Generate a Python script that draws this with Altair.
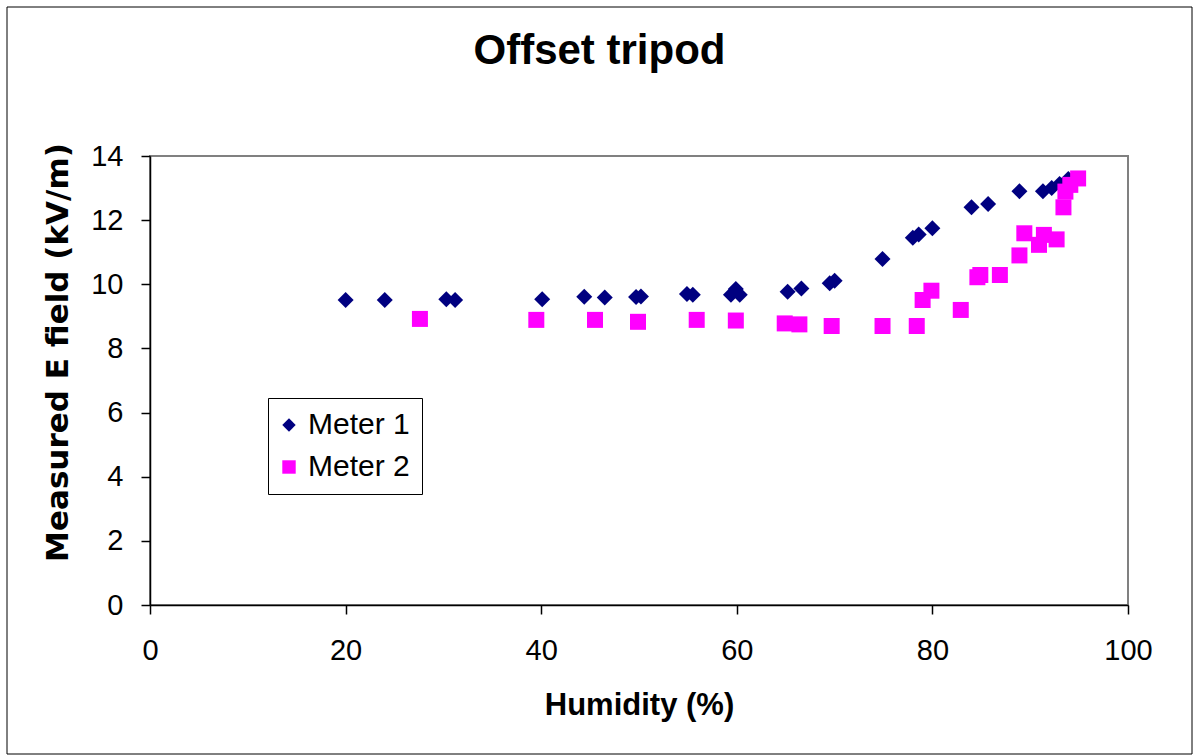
import altair as alt
import pandas as pd

# Meter 1 readings (humidity %, E field kV/m)
m1_x = [20.0, 24.0, 30.3, 31.2, 40.1, 44.4, 46.5, 49.7, 50.2, 54.9, 55.5, 59.4, 59.9, 60.3,
        65.2, 66.6, 69.5, 70.0, 74.9, 78.0, 78.6, 80.0, 84.0, 85.7, 88.9, 91.3, 92.2, 93.0, 93.9]
m1_y = [9.51, 9.51, 9.53, 9.51, 9.53, 9.61, 9.59, 9.60, 9.62, 9.70, 9.67, 9.67, 9.85, 9.67,
        9.77, 9.87, 10.03, 10.11, 10.79, 11.45, 11.55, 11.75, 12.40, 12.50, 12.90, 12.90, 13.00, 13.13, 13.28]

# Meter 2 readings
m2_x = [27.6, 39.5, 45.5, 49.9, 55.9, 59.9, 64.9, 66.4, 69.7, 74.9, 78.4, 79.0, 79.9, 82.9,
        84.6, 84.9, 86.9, 88.9, 89.4, 90.9, 91.4, 92.7, 93.4, 93.6, 94.1, 94.9]
m2_y = [8.92, 8.89, 8.89, 8.83, 8.89, 8.87, 8.78, 8.75, 8.70, 8.70, 8.70, 9.51, 9.80, 9.20,
        10.22, 10.29, 10.29, 10.90, 11.59, 11.23, 11.54, 11.40, 12.40, 12.89, 13.10, 13.30]

series = ["Meter 1", "Meter 2"]
colors = ["#000080", "#FF00FF"]
shapes = ["diamond", "square"]

df = pd.DataFrame({
    "humidity": m1_x + m2_x,
    "field": m1_y + m2_y,
    "meter": [series[0]] * len(m1_x) + [series[1]] * len(m2_x),
})

W, H = 978, 449

points = alt.Chart(df).mark_point(filled=True, size=256, opacity=1).encode(
    x=alt.X("humidity:Q",
            scale=alt.Scale(domain=[0, 100], nice=False),
            axis=alt.Axis(values=[0, 20, 40, 60, 80, 100], title="Humidity (%)",
                          labelFontSize=29, tickSize=9, labelPadding=22, labelFlush=False,
                          titleFontSize=31, titlePadding=25)),
    y=alt.Y("field:Q",
            scale=alt.Scale(domain=[0, 14], nice=False),
            axis=alt.Axis(values=[0, 2, 4, 6, 8, 10, 12, 14], title="Measured E field (kV/m)",
                          labelFontSize=29, tickSize=9, labelPadding=18, labelFlush=False,
                          titleFontSize=31, titleFont="DejaVu Sans", titlePadding=16,
                          titleY=196)),
    color=alt.Color("meter:N", scale=alt.Scale(domain=series, range=colors),
                    legend=alt.Legend(title=None, orient="none", legendX=118, legendY=242,
                                      strokeColor="black", fillColor="white", padding=12,
                                      labelFontSize=30, symbolSize=180, rowPadding=12,
                                      symbolOffset=-6, labelOffset=4, symbolStrokeWidth=0)),
    shape=alt.Shape("meter:N", scale=alt.Scale(domain=series, range=shapes), legend=None),
)

frame = alt.Chart(alt.Data(values=[{"a": 1}])).mark_rect(
    fillOpacity=0, stroke="black", strokeWidth=1
).encode(
    x=alt.value(-143), x2=alt.value(1042), y=alt.value(-149), y2=alt.value(598)
)

chart = alt.layer(frame, points).properties(
    width=W, height=H,
    title=alt.TitleParams("Offset tripod", fontSize=42, font="Liberation Sans", fontWeight="bold",
                          anchor="middle", frame="bounds", baseline="alphabetic",
                          offset=0, dy=99),
    autosize=alt.AutoSizeParams(type="none"),
    padding={"left": 150, "top": 156, "right": 67, "bottom": 151},
).configure(
    font="Liberation Sans",
    background="white",
).configure_view(
    stroke="#808080", strokeWidth=2
).configure_axis(
    grid=False, domainColor="black", tickColor="black", domainWidth=1.5, tickWidth=1.5,
    labelColor="black", titleColor="black", labelFont="Liberation Sans",
    titleFontWeight="bold"
).configure_legend(
    labelColor="black", labelFont="Liberation Sans"
)

chart.save("out.html", embed_options={"renderer": "svg", "actions": False})
